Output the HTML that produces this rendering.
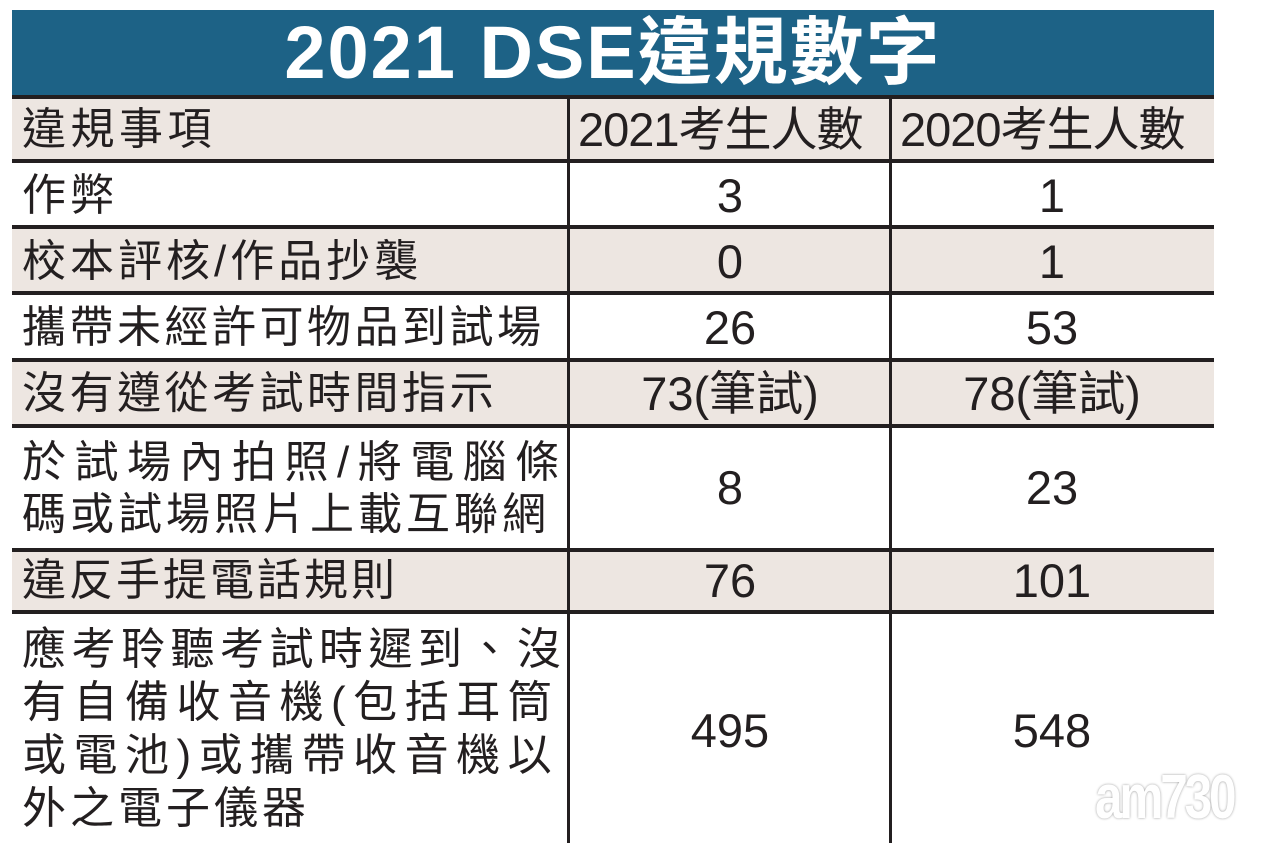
<!DOCTYPE html>
<html><head><meta charset="utf-8"><style>
body{margin:0;width:1280px;height:843px;background:#fff;position:relative;overflow:hidden;font-family:"Liberation Sans","Noto Sans CJK TC",sans-serif;color:#231f20}
.t{position:absolute;left:12px;top:10px;width:1202px;height:86px;background:#1d6286;color:#fff;font-weight:bold;font-size:74px;text-align:center;line-height:86px;letter-spacing:2px}
.r{position:absolute;left:12px;width:1202px}
.b{background:#ede6e1}
.h{position:absolute;left:12px;width:1202px;height:4px;background:#231f20}
.v{position:absolute;top:97px;width:3px;height:515px;background:#231f20}
.v2{position:absolute;top:612px;width:3px;height:231px;background:#231f20}
.l{position:absolute;left:22px;font-size:44px;white-space:nowrap;line-height:52px}
.n{position:absolute;font-size:47px;text-align:center;width:320px;line-height:52px}
</style></head><body>
<div class="t">2021 DSE違規數字</div>
<div class="r b" style="top:97px;height:64px"></div>
<div class="r b" style="top:227px;height:66px"></div>
<div class="r b" style="top:360px;height:66px"></div>
<div class="r b" style="top:550px;height:62px"></div>
<div class="h" style="top:95px"></div>
<div class="h" style="top:159px"></div>
<div class="h" style="top:225px"></div>
<div class="h" style="top:291px"></div>
<div class="h" style="top:358px"></div>
<div class="h" style="top:424px"></div>
<div class="h" style="top:548px"></div>
<div class="h" style="top:610px"></div>
<div class="v" style="left:567px"></div>
<div class="v" style="left:889px"></div>
<div class="v2" style="left:567px"></div>
<div class="v2" style="left:889px"></div>

<div class="l" style="top:104px;letter-spacing:4.5px">違規事項</div>
<div class="l" style="top:104px;left:578px;font-size:47px;letter-spacing:-1px">2021考生人數</div>
<div class="l" style="top:104px;left:900px;font-size:47px;letter-spacing:-1px">2020考生人數</div>
<div class="l" style="top:170px;letter-spacing:4px">作弊</div>
<div class="l" style="top:236px;letter-spacing:4px">校本評核/作品抄襲</div>
<div class="l" style="top:302px;letter-spacing:3.5px">攜帶未經許可物品到試場</div>
<div class="l" style="top:368px;letter-spacing:3.5px">沒有遵從考試時間指示</div>
<div class="l" style="top:437px;letter-spacing:8.5px">於試場內拍照/將電腦條</div>
<div class="l" style="top:489px;letter-spacing:4px">碼或試場照片上載互聯網</div>
<div class="l" style="top:555px;letter-spacing:3px">違反手提電話規則</div>
<div class="l" style="top:624px;letter-spacing:5.5px">應考聆聽考試時遲到、沒</div>
<div class="l" style="top:677px;letter-spacing:7.5px">有自備收音機(包括耳筒</div>
<div class="l" style="top:730px;letter-spacing:7.5px">或電池)或攜帶收音機以</div>
<div class="l" style="top:783px;letter-spacing:4px">外之電子儀器</div>

<div class="n" style="left:570px;top:170px">3</div><div class="n" style="left:892px;top:170px">1</div>
<div class="n" style="left:570px;top:236px">0</div><div class="n" style="left:892px;top:236px">1</div>
<div class="n" style="left:570px;top:302px">26</div><div class="n" style="left:892px;top:302px">53</div>
<div class="n" style="left:570px;top:368px">73(筆試)</div><div class="n" style="left:892px;top:368px">78(筆試)</div>
<div class="n" style="left:570px;top:462px">8</div><div class="n" style="left:892px;top:462px">23</div>
<div class="n" style="left:570px;top:555px">76</div><div class="n" style="left:892px;top:555px">101</div>
<div class="n" style="left:570px;top:705px">495</div><div class="n" style="left:892px;top:705px">548</div>
<div style="position:absolute;left:1095px;top:762px;font-size:62px;font-weight:bold;color:#fff;text-shadow:0 0 3px #999;letter-spacing:-4px;transform:scaleX(0.8);transform-origin:left">am730</div>
</body></html>
